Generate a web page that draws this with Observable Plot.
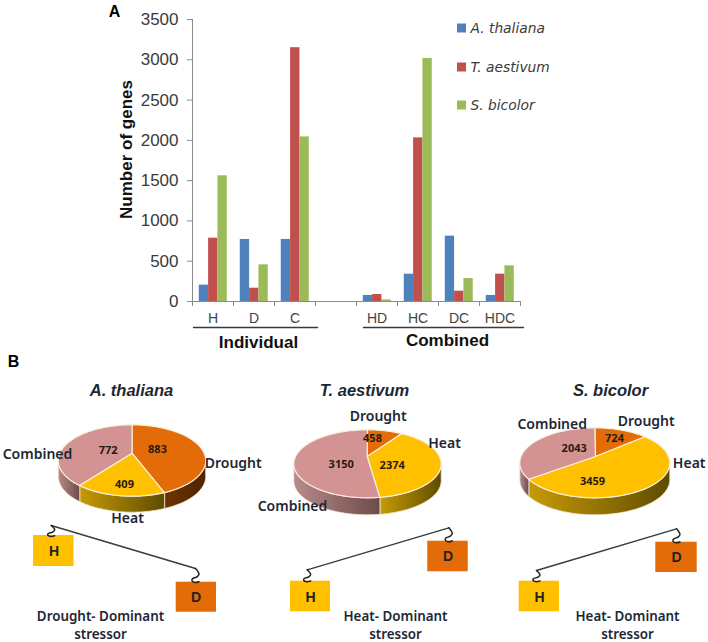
<!DOCTYPE html>
<html>
<head>
<meta charset="utf-8">
<script src="https://cdn.jsdelivr.net/npm/d3@7"></script>
<script src="https://cdn.jsdelivr.net/npm/@observablehq/plot@0.6"></script>
<style>
html,body{margin:0;padding:0;background:#fff}
#wrap{position:relative;width:708px;height:642px;overflow:hidden}
#wrap svg{position:absolute;left:0;top:0;background:transparent;overflow:visible}
</style>
</head>
<body>
<div id="wrap"></div>
<script>
// ---- Panel A data ----
const categories = ["H","D","C","","HD","HC","DC","HDC"];
const species = ["A. thaliana","T. aestivum","S. bicolor"];
const thalianaGenes = [203,770,770,null,75,339,811,75];
const aestivumGenes = [786,165,3150,null,87,2031,128,339];
const bicolorGenes  = [1560,455,2043,null,20,3016,285,443];
const yTicks = [0,500,1000,1500,2000,2500,3000,3500];
// ---- Panel B data ----
const stressors = ["Drought","Heat","Combined"];
const thalianaPie = [883,409,772];
const aestivumPie = [458,2374,3150];
const bicolorPie  = [724,3459,2043];
const captions = ["Drought- Dominant","Heat- Dominant","Heat- Dominant"];
// ---- Colours ----
const barColors = ["#4f81bd","#c0504d","#9bbb59"];
const pieColors = {Drought:"#e36c09",Heat:"#ffc000",Combined:"#d39393"};
const ink = "#1d2733";

const wrap = document.getElementById("wrap");
const rows = [thalianaGenes,aestivumGenes,bicolorGenes].flatMap((vals,k)=>
  vals.map((value,i)=>({i,k,species:species[k],value})).filter(d=>d.value!=null));

const barPlot = Plot.plot({
  width:708,height:356,
  marginLeft:192,marginRight:188,marginTop:19,marginBottom:55,
  style:{background:"transparent"},
  x:{domain:[0,8]},
  y:{domain:[0,3500]},
  color:{domain:species,range:barColors},
  marks:[
    Plot.rectY(rows,{x1:d=>d.i+0.165+d.k*0.2276,x2:d=>d.i+0.165+(d.k+1)*0.2276,y:"value",fill:"species"}),
    Plot.ruleY([0],{stroke:"#8a8a8a"}),
    Plot.ruleX([0],{stroke:"#8a8a8a"}),
    Plot.axisX({ticks:d3.range(9),tickSize:5,tickFormat:()=>"",label:null,stroke:"#8a8a8a"}),
    Plot.axisY({ticks:yTicks,tickSize:5,tickPadding:9,label:null,tickFormat:d=>String(d),
      stroke:"#8a8a8a",fill:"#3a3a3a",fontSize:17,fontFamily:"Liberation Sans"}),
    Plot.text(categories,{x:(d,i)=>i+0.5,y:()=>0,dy:17,text:d=>d,fontSize:14,fill:"#444",fontFamily:"Liberation Sans"})
  ]
});
wrap.appendChild(barPlot);

// ---- geometry helpers: derive each slice from its value ----
function rim(p,a0,a1,dy=0){
  const n=Math.max(2,Math.ceil((a1-a0)/0.03)),out=[];
  for(let j=0;j<=n;j++){const t=a0+(a1-a0)*j/n;
    out.push([p.cx+p.rx*Math.sin(t),p.cy-p.ry*Math.cos(t)+dy]);}
  return out;
}
function pieMarks(values,p,wallFill){
  const arcs=d3.pie().sort(null)(values);
  const marks=[];
  arcs.forEach((a,i)=>{
    const lo=Math.max(a.startAngle,Math.PI/2),hi=Math.min(a.endAngle,Math.PI*1.5);
    if(hi>lo){
      const pts=[...rim(p,lo,hi),...rim(p,lo,hi,p.depth).reverse()];
      marks.push(Plot.line(pts,{x:d=>d[0],y:d=>d[1],curve:"linear-closed",fill:wallFill[i],stroke:"#f3e7d2",strokeWidth:0.8}));
    }
  });
  arcs.forEach((a,i)=>{
    const pts=[[p.ax,p.ay],...rim(p,a.startAngle,a.endAngle)];
    marks.push(Plot.line(pts,{x:d=>d[0],y:d=>d[1],curve:"linear-closed",fill:pieColors[stressors[i]],stroke:"#f8efdf",strokeWidth:1.2}));
  });
  return marks;
}
function label(t,x,y,o={}){
  return Plot.text([t],{x:()=>x,y:()=>y,text:d=>String(d),textAnchor:"middle",lineAnchor:"middle",
    fontFamily:"Noto Sans",fontWeight:600,fontSize:14,fill:ink,...o});
}
const val=(t,x,y)=>label(t,x,y,{fontSize:11,fontWeight:700,fontFamily:"Open Sans",fill:"#2a1a10"});
const boxMark=(x1,x2,y1,y2,fill)=>Plot.rect([0],{x1:()=>x1,x2:()=>x2,y1:()=>y1,y2:()=>y2,fill});
function hook(x,y,h){
  const pts=[[0,0],[2,.18],[3.5,.4],[1.5,.62],[-3,.76],[-3.5,.92],[-0.5,1.04],[3.5,.98]].map(([a,b])=>[x+a,y+b*h]);
  return Plot.line(pts,{x:d=>d[0],y:d=>d[1],curve:"catmull-rom",stroke:"#222",strokeWidth:1.5});
}
const beam=(x1,y1,x2,y2)=>Plot.line([[x1,y1],[x2,y2]],{x:d=>d[0],y:d=>d[1],stroke:"#3a3a3a",strokeWidth:1.4});
const boxLetter=(t,x,y)=>label(t,x,y,{fontFamily:"Liberation Sans",fontWeight:700,fontSize:14,fill:"#222"});

const wallsA=["url(#gDrought)","url(#gHeat)","url(#gCombined)"];
const defs=()=>{
  const ns="http://www.w3.org/2000/svg";
  const d=document.createElementNS(ns,"defs");
  const grads={gDrought:["#6e3400","#4f2400"],gHeat:["#c79b05","#5f4c00"],gCombined:["#b98a8a","#6e4b4b"]};
  for(const [id,[a,b]] of Object.entries(grads)){
    const g=document.createElementNS(ns,"linearGradient");g.setAttribute("id",id);
    [[0,a],[1,b]].forEach(([o,c])=>{const s=document.createElementNS(ns,"stop");
      s.setAttribute("offset",o);s.setAttribute("stop-color",c);g.appendChild(s);});
    d.appendChild(g);
  }
  return d;
};

const pieA={cx:131.5,cy:460,rx:73.7,ry:35.7,ax:131.5,ay:452.7,depth:16};
const pieT={cx:367,cy:463.3,rx:73.7,ry:34,ax:366.7,ay:456,depth:17};
const pieS={cx:594.3,cy:462.3,rx:75,ry:35,ax:595,ay:456,depth:17};

const speciesTitle=(t,x)=>label(t,x,390,{fontFamily:"Liberation Sans",fontWeight:700,fontStyle:"italic",fontSize:16.5});
const caption=(t,x,y)=>[label(t,x,y,{fontSize:13.4}),label("stressor",x,y+18.5,{fontSize:13.4})];
const legendY=[28,67,105];

const overlay = Plot.plot({
  width:708,height:642,margin:0,
  style:{background:"transparent"},
  x:{domain:[0,708],range:[0,708],axis:null},
  y:{domain:[0,642],range:[0,642],axis:null},
  marks:[
    defs,
    label("A",114,11,{fontFamily:"Liberation Sans",fontWeight:700,fontSize:16,fill:"#000"}),
    label("B",13,361,{fontFamily:"Liberation Sans",fontWeight:700,fontSize:16,fill:"#000"}),
    Plot.text(["Number of genes"],{x:()=>126,y:()=>149,text:d=>d,rotate:-90,fontFamily:"Liberation Sans",fontWeight:700,fontSize:17,fill:"#111"}),
    ...species.flatMap((s,i)=>[
      boxMark(457,466,legendY[i]-4.5,legendY[i]+4.5,barColors[i]),
      Plot.text([s],{x:()=>470,y:()=>legendY[i],text:d=>d,textAnchor:"start",lineAnchor:"middle",
        fontFamily:"DejaVu Sans",fontStyle:"italic",fontSize:13.8,fill:"#3a3a3a"})
    ]),
    beam(193,327,317,327),
    beam(363,327,523,327),
    label("Individual",258,342.5,{fontFamily:"Liberation Sans",fontWeight:700,fontSize:17,fill:"#111"}),
    label("Combined",447,340.5,{fontFamily:"Liberation Sans",fontWeight:700,fontSize:17,fill:"#111"}),

    speciesTitle(species[0],131),
    speciesTitle(species[1],364),
    speciesTitle(species[2],610),

    ...pieMarks(thalianaPie,pieA,wallsA),
    ...pieMarks(aestivumPie,pieT,wallsA),
    ...pieMarks(bicolorPie,pieS,wallsA),

    label("Combined",37,454),label("Drought",232.7,462.7),label("Heat",127,517.7),
    val(thalianaPie[2],107.7,450),val(thalianaPie[0],157,449),val(thalianaPie[1],124,483.7),

    label("Drought",377.7,416),label("Heat",444,443.3),label("Combined",292,506),
    val(aestivumPie[0],372,438),val(aestivumPie[2],340.7,464),val(aestivumPie[1],391.7,465),

    label("Combined",551.7,424.3),label("Drought",645.7,421),label("Heat",688.7,463.3),
    val(bicolorPie[2],573.7,448.3),val(bicolorPie[0],614,437.7),val(bicolorPie[1],592,481),

    // balance: A. thaliana
    boxMark(33,73.5,535,566,pieColors.Heat),boxMark(175.7,216,581.7,611.7,pieColors.Drought),
    beam(50.7,525,195,568),hook(50.7,525,10.5),hook(195,568,13.5),
    boxLetter("H",53.5,551),boxLetter("D",195.5,597),
    ...caption(captions[0],100,616),
    // balance: T. aestivum
    boxMark(427.3,467.7,540.7,571.3,pieColors.Drought),boxMark(290,330,580.7,611.3,pieColors.Heat),
    beam(448.3,527.3,306.7,569.3),hook(448.3,527.3,13.5),hook(306.7,569.3,11.5),
    boxLetter("D",447.5,556.5),boxLetter("H",310,597),
    ...caption(captions[1],395,616),
    // balance: S. bicolor
    boxMark(655.3,696.7,541.7,572,pieColors.Drought),boxMark(518.7,559,580.7,611.3,pieColors.Heat),
    beam(676,528.3,536,570),hook(676,528.3,13.5),hook(536,570,10.7),
    boxLetter("D",676,557.5),boxLetter("H",539,597),
    ...caption(captions[2],627,616)
  ]
});
wrap.appendChild(overlay);
</script>
</body>
</html>
